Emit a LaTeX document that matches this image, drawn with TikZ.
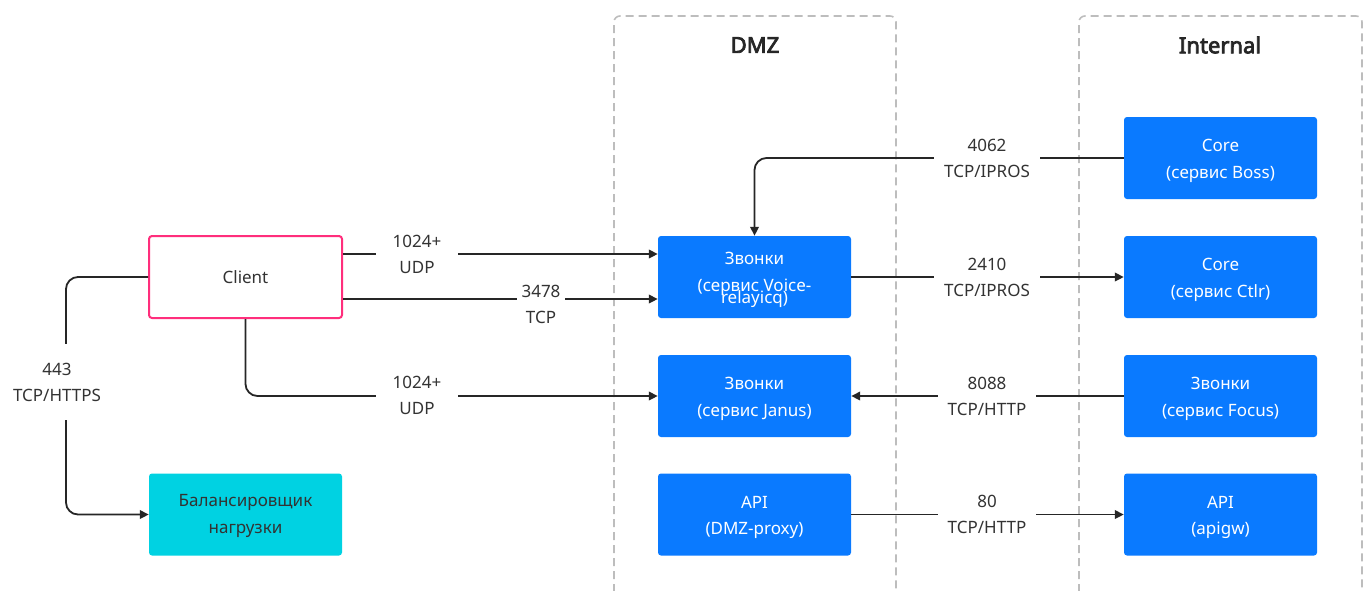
\documentclass[tikz,border=0pt]{standalone}
\usepackage{fontspec}
\setmainfont{Noto Sans}
\newfontfamily\titlefont{Noto Sans}[FakeBold=3.5]
\usetikzlibrary{arrows.meta}
\definecolor{boxblue}{HTML}{0A7AFF}
\definecolor{lbcyan}{HTML}{00D2E2}
\definecolor{clientpink}{HTML}{FF2E7C}
\definecolor{linec}{HTML}{262626}
\definecolor{dashc}{HTML}{BDBDBD}
\definecolor{txt}{HTML}{333333}
\begin{document}
\begin{tikzpicture}[x=1pt,y=-1pt,
 box/.style={rectangle, rounded corners=3pt, minimum width=193pt, minimum height=82pt, inner sep=0pt, align=center, font=\fontsize{17}{26.5}\selectfont},
 boxtext/.style={align=center, inner sep=0pt, font=\fontsize{17}{26.5}\selectfont},
 svc/.style={box, fill=boxblue, label={[boxtext, text=white, yshift=-3pt]center:#1}},
 clientbox/.style={box, draw=clientpink, line width=2pt, fill=white, text=txt},
 lbbox/.style={box, fill=lbcyan, label={[boxtext, text=txt, yshift=-1.5pt]center:#1}},
 conn/.style={draw=linec, line width=1.8pt, rounded corners=12pt},
 arr/.style={conn, -{Triangle[length=9pt,width=8.5pt]}},
 lbl/.style={fill=white, text=txt, align=center, inner xsep=10pt, inner ysep=2pt, minimum width=82pt, font=\fontsize{17}{26}\selectfont},
 zone/.style={draw=dashc, line width=1.6pt, dash pattern=on 8pt off 5pt, rounded corners=6pt},
 zonetitle/.style={font=\titlefont\fontsize{22}{26}\selectfont, text=black!85}
]
\useasboundingbox (0,0) rectangle (1365,590);
% zones
\draw[zone] (614,592) -- (614,16) -- (896,16) -- (896,592);
\draw[zone] (1079,592) -- (1079,16) -- (1362,16) -- (1362,592);
\node[zonetitle] (dmzt) at (755,45) {DMZ};
\node[zonetitle] (intt) at (1220,45) {Internal};
% nodes
\node[clientbox] (client) at (245.5,277) {Client};
\node[lbbox={Балансировщик\\нагрузки}] (lb) at (245.5,514.5) {};
\node[svc={Звонки\\(сервис Voice-\\[-14pt]relayicq)}] (voice) at (754.5,277) {};
\node[svc={Звонки\\(сервис Janus)}] (janus) at (754.5,396) {};
\node[svc={API\\(DMZ-proxy)}] (dmzapi) at (754.5,514.5) {};
\node[svc={Core\\(сервис Boss)}] (boss) at (1220.5,158) {};
\node[svc={Core\\(сервис Ctlr)}] (ctlr) at (1220.5,277) {};
\node[svc={Звонки\\(сервис Focus)}] (focus) at (1220.5,396) {};
\node[svc={API\\(apigw)}] (apigw) at (1220.5,514.5) {};
% helper coordinates
\coordinate (c254) at (0,254);
\coordinate (c299) at (0,299);
\coordinate (c66) at (66,400);
% connectors
\draw[arr] (client.east |- c254) -- (voice.west |- c254);
\draw[arr] (client.east |- c299) -- (voice.west |- c299);
\draw[arr] (client.south) |- (janus.west);
\draw[arr] (client.west) -| (c66) |- (lb.west);
\draw[arr] (boss.west) -| (voice.north);
\draw[arr] (voice.east) -- (ctlr.west);
\draw[arr] (focus.west) -- (janus.east);
\draw[arr] (dmzapi.east) -- (apigw.west);
% labels
\node[lbl] (l1) at (417,254) {1024+\\UDP};
\node[lbl, minimum width=0pt, inner xsep=5pt] (l2) at (541,304) {3478\\TCP};
\node[lbl] (l3) at (417,395) {1024+\\UDP};
\node[lbl, inner ysep=19pt] (l4) at (57,382) {443\\TCP/HTTPS};
\node[lbl] (l5) at (987,158) {4062\\TCP/IPROS};
\node[lbl] (l6) at (987,277) {2410\\TCP/IPROS};
\node[lbl] (l7) at (987,396) {8088\\TCP/HTTP};
\node[lbl] (l8) at (987,514) {80\\TCP/HTTP};
\end{tikzpicture}
\end{document}
